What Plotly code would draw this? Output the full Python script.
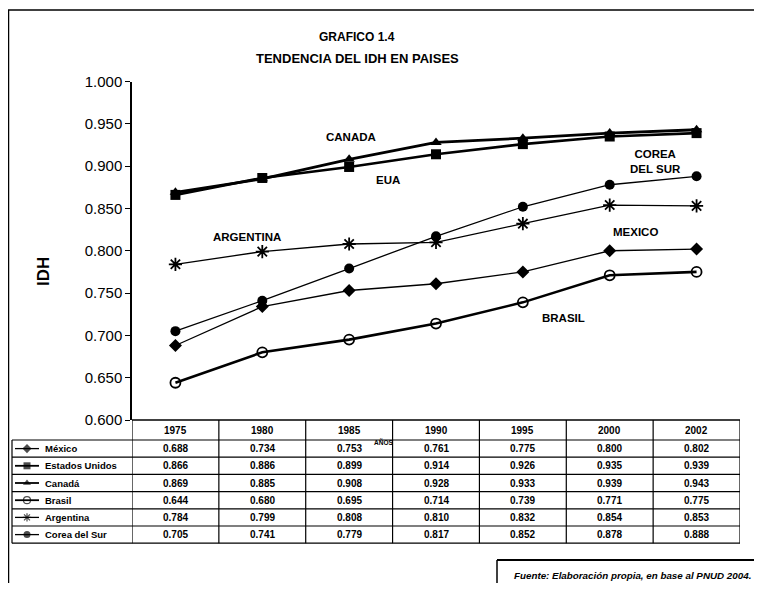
import plotly.graph_objects as go

years = ["1975", "1980", "1985", "1990", "1995", "2000", "2002"]
mexico = [0.688, 0.734, 0.753, 0.761, 0.775, 0.800, 0.802]
eua = [0.866, 0.886, 0.899, 0.914, 0.926, 0.935, 0.939]
canada = [0.869, 0.885, 0.908, 0.928, 0.933, 0.939, 0.943]
brasil = [0.644, 0.680, 0.695, 0.714, 0.739, 0.771, 0.775]
argentina = [0.784, 0.799, 0.808, 0.810, 0.832, 0.854, 0.853]
corea = [0.705, 0.741, 0.779, 0.817, 0.852, 0.878, 0.888]

series_names = ["México", "Estados Unidos", "Canadá", "Brasil", "Argentina", "Corea del Sur"]
series_values = [mexico, eua, canada, brasil, argentina, corea]
symbols = ["diamond", "square", "triangle-up", "circle-open", "asterisk-open", "circle"]
widths = [1.3, 2.6, 2.8, 2.6, 1.3, 1.3]
msizes = [10, 10, 10, 10, 11, 10]

# chart labels: (text, x index, y value)
labels = [
    ("CANADA", 2.02, 0.934),
    ("EUA", 2.45, 0.884),
    ("ARGENTINA", 0.82, 0.816),
    ("COREA<br>DEL SUR", 5.53, 0.906),
    ("MEXICO", 5.3, 0.822),
    ("BRASIL", 4.47, 0.721),
]

# page offset of the figure (body margin) and figure size
OX, OY = 8, 8
W, H = 762 - 2 * OX, 591 - 2 * OY
# layout in window pixels
PX_L, PX_R = 132, 740
PX_T, PX_B = 81.5, 420
FONT = "Liberation Sans"
BLACK = "#000000"

def fx(x):
    return x - OX

def fy(y):
    return y - OY

fig = go.Figure()
xi = list(range(len(years)))
for name, vals, sym, lw, ms in zip(series_names, series_values, symbols, widths, msizes):
    fig.add_trace(go.Scatter(
        x=xi, y=vals, mode="lines+markers", name=name,
        line=dict(color=BLACK, width=lw),
        marker=dict(symbol=sym, size=ms, color=BLACK,
                    line=dict(color=BLACK, width=1.8 if "open" in sym else 0)),
        xaxis="x", yaxis="y", showlegend=False, cliponaxis=False,
    ))

# table geometry (window pixels)
head_top, head_bot = 420, 440
row_h = 17.2
tab_left = 12
row_tops = [head_bot + i * row_h for i in range(len(series_names) + 1)]

# legend samples in the table's first column
for k, (sym, lw) in enumerate(zip(symbols, widths)):
    yc = fy(row_tops[k] + row_h / 2)
    fig.add_trace(go.Scatter(
        x=[fx(tab_left + 3), fx(tab_left + 15), fx(tab_left + 27)], y=[yc, yc, yc],
        mode="lines+markers", line=dict(color=BLACK, width=min(lw, 1.8)),
        marker=dict(symbol=sym, size=[0, 7, 0], color=BLACK,
                    line=dict(color=BLACK, width=1.2 if "open" in sym else 0)),
        xaxis="x2", yaxis="y2", showlegend=False, hoverinfo="skip",
    ))

shapes = []
def line(x0, y0, x1, y1, xdata=False, w=1.2):
    shapes.append(dict(type="line",
                       x0=x0 if xdata else fx(x0), x1=x1 if xdata else fx(x1),
                       y0=fy(y0), y1=fy(y1),
                       xref="x" if xdata else "x2", yref="y2",
                       line=dict(color=BLACK, width=w)))

# vertical column boundaries (from the category axis)
for i in range(len(years) + 1):
    line(i - 0.5, head_top, i - 0.5, row_tops[-1], xdata=True)
# horizontal lines of table
line(-0.5, head_top, len(years) - 0.5, head_top, xdata=True, w=1.5)
for yt in row_tops:
    line(tab_left, yt, PX_R, yt)
line(tab_left, row_tops[0], tab_left, row_tops[-1])

# outer frame
line(8.5, 10, 8.5, 600, w=1.5)
line(8, 10, 770, 10, w=1.5)
# source box
line(497, 560, 770, 560, w=2)
line(497, 560, 497, 600, w=1.5)

annotations = []
def txt(text, x, y, size, xdata=False, bold=True, italic=False, xanchor="center", angle=0):
    t = text
    if bold:
        t = "<b>" + t + "</b>"
    if italic:
        t = "<i>" + t + "</i>"
    annotations.append(dict(text=t, x=x if xdata else fx(x), y=fy(y),
                            xref="x" if xdata else "x2", yref="y2", showarrow=False,
                            xanchor=xanchor, yanchor="middle", textangle=angle,
                            font=dict(family=FONT, size=size, color=BLACK)))

# headers
for i, yr in enumerate(years):
    txt(yr, i, (head_top + head_bot) / 2, 10, xdata=True)
# rows
for k, (name, vals) in enumerate(zip(series_names, series_values)):
    yc = row_tops[k] + row_h / 2
    txt(name, tab_left + 31, yc, 9.5, xanchor="left")
    for i, v in enumerate(vals):
        txt(f"{v:.3f}", i, yc, 10, xdata=True)

txt("AÑOS", 383, 442, 6.5)

# titles
txt("GRAFICO 1.4", 357, 37, 12)
txt("TENDENCIA DEL IDH EN PAISES", 357, 58, 13)
txt("IDH", 43, 272, 17, angle=-90)

for text, x, y in labels:
    annotations.append(dict(text="<b>" + text + "</b>", x=x, y=y, xref="x", yref="y",
                            showarrow=False, font=dict(family=FONT, size=11.5, color=BLACK)))

txt("Fuente: Elaboración propia, en base al PNUD 2004.", 753, 575, 9.8, italic=True, xanchor="right")

fig.update_layout(
    width=W, height=H,
    margin=dict(l=0, r=0, t=0, b=0, pad=0, autoexpand=False),
    paper_bgcolor="white", plot_bgcolor="rgba(0,0,0,0)",
    showlegend=False,
    xaxis=dict(domain=[fx(PX_L) / W, fx(PX_R) / W], range=[-0.5, len(years) - 0.5],
               automargin=False,
               showticklabels=False, showgrid=False, zeroline=False, showline=False, ticks=""),
    yaxis=dict(domain=[1 - fy(PX_B) / H, 1 - fy(PX_T) / H], range=[0.6, 1.0], dtick=0.05,
               automargin=False,
               tickformat=".3f", showgrid=False, zeroline=False, showline=True,
               linecolor=BLACK, linewidth=1.5, ticks="outside", ticklen=5, tickcolor=BLACK,
               tickfont=dict(family=FONT, size=15, color=BLACK)),
    xaxis2=dict(domain=[0, 1], range=[0, W], visible=False, anchor="y2", fixedrange=True,
                automargin=False),
    yaxis2=dict(domain=[0, 1], range=[H, 0], visible=False, anchor="x2", fixedrange=True,
                automargin=False),
    shapes=shapes,
    annotations=annotations,
)

fig.write_html("out.html")
